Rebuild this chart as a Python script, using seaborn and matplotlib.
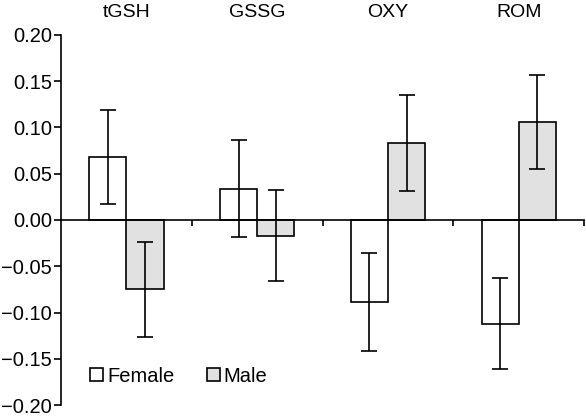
import matplotlib
matplotlib.use("Agg")
import matplotlib.pyplot as plt
import seaborn as sns
import pandas as pd
import numpy as np

categories = ["tGSH", "GSSG", "OXY", "ROM"]
female_mean = [0.068, 0.034, -0.089, -0.112]
female_err = [0.051, 0.052, 0.053, 0.049]
male_mean = [-0.075, -0.017, 0.083, 0.106]
male_err = [0.051, 0.049, 0.052, 0.051]
groups = ["Female", "Male"]
y_ticks = [-0.20, -0.15, -0.10, -0.05, 0.00, 0.05, 0.10, 0.15, 0.20]

sns.set_style("white")
plt.rcParams["font.family"] = ["Liberation Sans", "DejaVu Sans"]
plt.rcParams["text.color"] = "black"
plt.rcParams["axes.edgecolor"] = "black"
plt.rcParams["xtick.color"] = "black"
plt.rcParams["ytick.color"] = "black"
plt.rcParams["axes.labelcolor"] = "black"

df = pd.DataFrame({
    "category": categories * 2,
    "sex": ["Female"] * 4 + ["Male"] * 4,
    "value": female_mean + male_mean,
})

fig = plt.figure(figsize=(5.86, 4.19), dpi=100)
ax = fig.add_axes([0.104, 0.0334, 0.893, 0.8831])

sns.barplot(data=df, x="category", y="value", hue="sex", order=categories,
            hue_order=groups, palette={"Female": "white", "Male": "#e1e1e1"},
            width=0.57, edgecolor="black", linewidth=1.2, errorbar=None, ax=ax,
            saturation=1)

errs = {"Female": female_err, "Male": male_err}
means = {"Female": female_mean, "Male": male_mean}
for cont, g in zip(ax.containers, groups):
    xs = [p.get_x() + p.get_width() / 2 for p in cont.patches]
    ax.errorbar(xs, means[g], yerr=errs[g], fmt="none", ecolor="black",
                elinewidth=1.2, capsize=5.5, capthick=1.2, zorder=5)

ax.set_xlim(-0.5, 3.5)
ax.set_ylim(-0.2, 0.2)
ax.set_yticks(y_ticks)
ax.set_yticklabels([f"{t:.2f}".replace("-", "\u2212") for t in y_ticks], fontsize=14.5)
ax.tick_params(axis="y", direction="out", length=5, width=1.2, left=True, pad=1.5)

ax.spines["top"].set_visible(False)
ax.spines["right"].set_visible(False)
ax.spines["left"].set_linewidth(1.2)
ax.spines["bottom"].set_position(("data", 0))
ax.spines["bottom"].set_linewidth(1.2)
ax.spines["bottom"].set_zorder(6)
ax.set_xticks([0.5, 1.5, 2.5, 3.5])
ax.set_xticklabels([])
ax.tick_params(axis="x", direction="out", length=4, width=1.2, bottom=True)
ax.set_xlabel("")
ax.set_ylabel("")

sec = ax.secondary_xaxis("top")
sec.set_xticks(range(len(categories)))
sec.set_xticklabels(categories, fontsize=14)
sec.tick_params(length=0, pad=10)
sec.spines["top"].set_visible(False)

ax.legend(loc="lower left", bbox_to_anchor=(0.04, 0.03), ncol=2, frameon=False,
          fontsize=14.5, handlelength=0.65, handleheight=0.65, handletextpad=0.2,
          columnspacing=1.6, borderaxespad=0)

fig.savefig("out.png", dpi=100)
